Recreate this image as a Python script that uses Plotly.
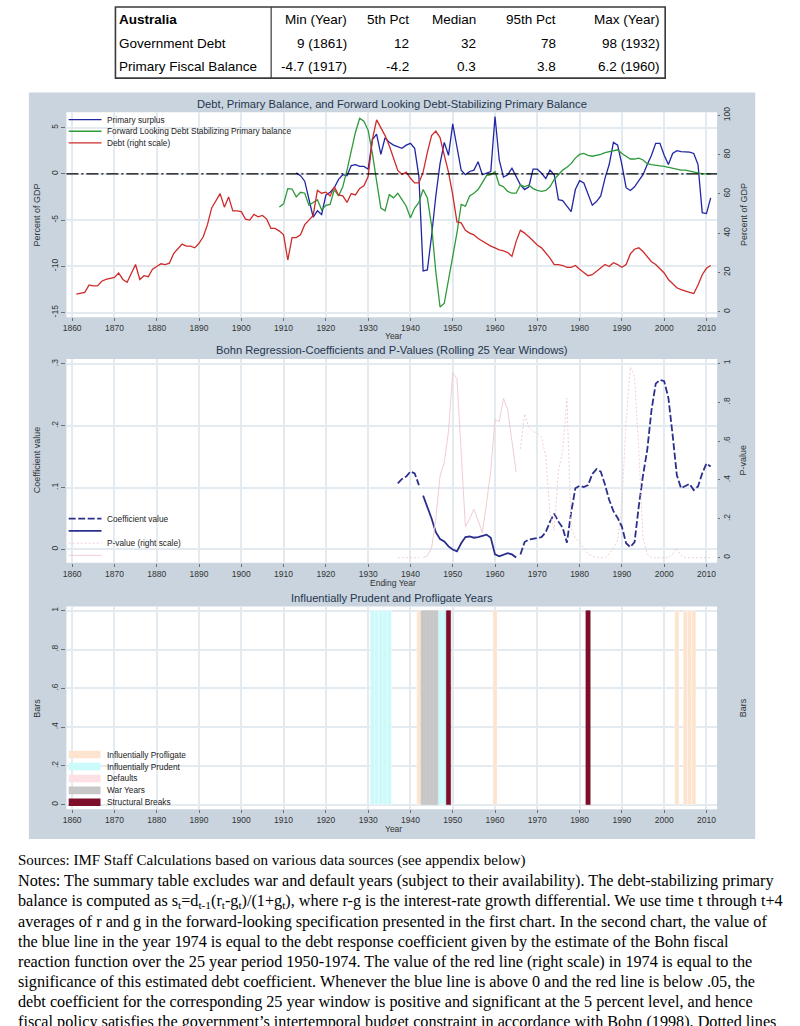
import plotly.graph_objects as go

W, H = 800, 1026

# ---------------- summary table ----------------
table_header = ["Australia", "Min (Year)", "5th Pct", "Median", "95th Pct", "Max (Year)"]
table_labels = ["Government Debt", "Primary Fiscal Balance"]
table_min = ["9 (1861)", "-4.7 (1917)"]
table_p5 = ["12", "-4.2"]
table_median = ["32", "0.3"]
table_p95 = ["78", "3.8"]
table_max = ["98 (1932)", "6.2 (1960)"]

# ---------------- panel 1: debt and balances ----------------
debt_years = list(range(1861, 2012))
debt = [
    9.0, 9.4, 9.9, 13.7, 13.2, 13.2, 15.6, 16.5, 17.0, 17.5,          # 1861-1870
    19.8, 16.5, 15.1, 19.4, 24.1, 16.5, 18.4, 17.9, 21.7, 23.1,       # 1871-1880
    24.5, 24.1, 24.8, 29.7, 32.1, 34.5, 33.5, 33.5, 32.6, 34.9,       # 1881-1890
    38.2, 44.4, 52.9, 56.2, 60.2, 53.3, 58.5, 51.4, 51.4, 51.0,       # 1891-1900
    47.2, 46.7, 49.6, 48.4, 49.1, 47.2, 42.5, 42.5, 41.1, 39.2,       # 1901-1910
    26.4, 37.8, 37.8, 39.2, 44.4, 46.7, 49.1, 61.8, 60.4, 60.9,       # 1911-1920
    59.0, 63.7, 59.5, 59.0, 55.7, 60.2, 59.5, 62.8, 64.2, 68.9,       # 1921-1930
    87.8, 97.7, 93.9, 89.7, 84.5, 77.9, 72.0, 69.9, 71.1, 68.0,       # 1931-1940
    65.6, 65.6, 71.1, 81.2, 89.7, 92.0, 88.7, 79.8, 71.1, 59.5,       # 1941-1950
    45.8, 45.3, 41.5, 40.1, 39.2, 37.3, 35.9, 34.9, 33.5, 32.6,       # 1951-1960
    31.6, 31.1, 30.2, 28.3, 35.9, 41.5, 40.1, 38.2, 35.9, 34.0,       # 1961-1970
    32.6, 30.2, 27.4, 24.1, 24.1, 23.6, 22.7, 22.7, 23.6, 21.7,       # 1971-1980
    19.8, 18.4, 18.9, 20.8, 22.2, 24.1, 23.1, 25.0, 24.1, 22.7,       # 1981-1990
    24.1, 29.5, 31.9, 32.6, 30.7, 28.3, 25.5, 24.1, 22.2, 19.8,       # 1991-2000
    16.5, 14.2, 12.3, 11.3, 10.4, 9.9, 9.4, 13.7, 18.9, 22.2,         # 2001-2010
    23.6,                                                             # 2011
]
surplus_years = list(range(1913, 2012))
primary_surplus = [
    0.1, -0.2, -0.8, -2.8, -4.7, -4.0, -4.4, -2.3,                     # 1913-1920
    -2.0, -1.5, -0.6, -0.1, -0.2, 0.9, 1.0, 0.8, 0.8, 0.5,            # 1921-1930
    3.7, 4.3, 2.1, 3.9, 3.4, 3.1, 2.9, 2.75, 3.1, 3.3,                # 1931-1940
    2.75, -0.3, -10.5, -10.4, -6.7, -2.4, 1.1, 3.4, 2.0, 5.4,         # 1941-1950
    2.9, 0.4, -0.1, 0.25, 0.4, 1.3, -0.1, 0.07, 0.25, 6.2,            # 1951-1960
    1.5, -0.35, -0.1, 0.6, -0.35, -1.2, -1.7, -1.4, 0.5, 0.5,         # 1961-1970
    0.07, -0.5, 0.4, -0.1, -2.8, -2.9, -3.5, -4.1, -1.7, -0.75,       # 1971-1980
    -1.0, -2.1, -3.4, -3.0, -2.4, -0.5, 1.0, 3.4, 3.1, 1.0,           # 1981-1990
    -1.5, -1.8, -1.4, -0.75, -0.1, 1.0, 2.0, 3.3, 3.3, 2.0,           # 1991-2000
    1.0, 2.2, 2.5, 2.4, 2.4, 2.35, 2.2, 1.0, -4.2, -4.3,              # 2001-2010
    -2.6,                                                             # 2011
]
fwd_years = list(range(1909, 2012))
fwd_stabilizing = [
    -3.6, -3.25,                                                      # 1909-1910
    -1.6, -1.65, -2.5, -2.0, -2.1, -3.4, -3.1, -2.8, -3.9, -3.4,      # 1911-1920
    -3.3, -1.7, -2.4, -1.4, 0.4, 2.4, 4.5, 6.0, 5.7, 4.7,             # 1921-1930
    2.2, -0.8, -3.7, -4.0, -2.25, -2.6, -2.1, -2.8, -3.5, -4.75,      # 1931-1940
    -3.7, -3.1, -1.7, -2.6, -5.6, -10.6, -14.4, -14.0, -11.4, -8.9,   # 1941-1950
    -6.4, -3.3, -3.5, -2.4, -2.1, -1.7, -1.0, -0.2, -0.1, 0.25,       # 1951-1960
    -1.2, -1.4, -1.9, -2.1, -2.1, -1.2, -1.4, -1.2, -1.6, -1.8,       # 1961-1970
    -1.9, -1.8, -1.4, -0.6, -0.1, 0.4, 0.7, 1.1, 1.7, 2.1,            # 1971-1980
    2.2, 2.0, 1.9, 2.0, 2.1, 2.3, 2.4, 2.5, 2.6, 2.2,                 # 1981-1990
    1.9, 1.6, 1.6, 1.7, 1.5, 1.1, 1.0, 0.9, 0.85, 0.8,                # 1991-2000
    0.7, 0.6, 0.55, 0.4, 0.4, 0.3, 0.2, 0.05, 0.0, 0.0,               # 2001-2010
    0.0,                                                              # 2011
]

# ---------------- panel 2: rolling Bohn regressions ----------------
bohn_years = list(range(1937, 2012))
coef_value = [
    0.107, 0.114, 0.118, 0.126,                                       # 1937-1940
    0.123, 0.104, 0.087, 0.070, 0.050, 0.028, 0.017, 0.013, 0.005, 0.000,   # 1941-1950
    -0.003, 0.010, 0.020, 0.021, 0.019, 0.020, 0.022, 0.024, 0.019, -0.008, # 1951-1960
    -0.011, -0.008, -0.006, -0.008, -0.013, -0.008, 0.012, 0.016, 0.017, 0.018,  # 1961-1970
    0.020, 0.028, 0.045, 0.058, 0.045, 0.035, 0.011, 0.060, 0.099, 0.103,  # 1971-1980
    0.101, 0.104, 0.122, 0.130, 0.126, 0.105, 0.080, 0.062, 0.051, 0.037,  # 1981-1990
    0.010, 0.004, 0.012, 0.070, 0.120, 0.161, 0.225, 0.268, 0.274, 0.272,  # 1991-2000
    0.245, 0.185, 0.120, 0.099, 0.102, 0.106, 0.096, 0.102, 0.123, 0.139,  # 2001-2010
    0.134,                                                            # 2011
]
p_value = [
    0.0, 0.0, 0.0, 0.0,                                               # 1937-1940
    0.0, 0.0, 0.0, 0.01, 0.05, 0.20, 0.42, 0.49, 0.65, 0.95,          # 1941-1950
    0.92, 0.55, 0.16, 0.20, 0.25, 0.19, 0.13, 0.28, 0.45, 0.71,       # 1951-1960
    0.70, 0.82, 0.76, 0.60, 0.44, 0.56, 0.74, 0.67, 0.65, 0.64,       # 1961-1970
    0.62, 0.52, 0.22, 0.14, 0.45, 0.55, 0.82, 0.15, 0.10, 0.08,       # 1971-1980
    0.05, 0.02, 0.01, 0.0, 0.0, 0.0, 0.02, 0.05, 0.09, 0.28,          # 1981-1990
    0.70, 0.98, 0.93, 0.55, 0.10, 0.02, 0.0, 0.0, 0.0, 0.0,           # 1991-2000
    0.0, 0.02, 0.05, 0.01, 0.0, 0.0, 0.0, 0.0, 0.0, 0.0,              # 2001-2010
    0.0,                                                              # 2011
]
solid_window = (1943, 1965)   # years drawn with the solid style

# ---------------- panel 3: classified years ----------------
profligate_years = [1942, 1960, 2003, 2005, 2006, 2007]
prudent_years = [1931, 1932, 1933, 1934, 1935, 1947, 1948]
default_years = []
war_years = [1943, 1944, 1945, 1946]
break_years = [1949, 1982]
bar_top = 1

# ---------------- ticks / text ----------------
decades = list(range(1860, 2011, 10))
p1_left_ticks = [-15, -10, -5, 0, 5]
p1_right_ticks = [0, 20, 40, 60, 80, 100]
p2_left_ticks = [0, 0.1, 0.2, 0.3]
p2_left_text = ["0", ".1", ".2", ".3"]
unit_ticks = [0, 0.2, 0.4, 0.6, 0.8, 1]
unit_text = ["0", ".2", ".4", ".6", ".8", "1"]

notes_lines = [
    "Sources: IMF Staff Calculations based on various data sources (see appendix below)",
    "Notes: The summary table excludes war and default years (subject to their availability). The debt-stabilizing primary",
    "balance is computed as s<sub>t</sub>=d<sub>t-1</sub>(r<sub>t</sub>-g<sub>t</sub>)/(1+g<sub>t</sub>), where r-g is the interest-rate growth differential. We use time t through t+4",
    "averages of r and g in the forward-looking specification presented in the first chart. In the second chart, the value of",
    "the blue line in the year 1974 is equal to the debt response coefficient given by the estimate of the Bohn fiscal",
    "reaction function over the 25 year period 1950-1974. The value of the red line (right scale) in 1974 is equal to the",
    "significance of this estimated debt coefficient. Whenever the blue line is above 0 and the red line is below .05, the",
    "debt coefficient for the corresponding 25 year window is positive and significant at the 5 percent level, and hence",
    "fiscal policy satisfies the government\u2019s intertemporal budget constraint in accordance with Bohn (1998). Dotted lines",
]

# ---------------- geometry helpers (pixels -> paper) ----------------
def px(v):
    return v / W


def py(v):
    return 1 - v / H


PL, PR = 62.7, 716.7
P1 = (107, 313)
P2 = (355, 560)
P3 = (604, 808)
XR = [1858.64, 2012.52]

SANS = "Liberation Sans, Arial, sans-serif"
SERIF = "Liberation Serif, Times New Roman, serif"
GRID = "#e3eaf0"
TICKC = "#707070"
tick_font = dict(size=8.5, color="#333333", family=SANS)
BG = "#c9d4de"
TITLE_C = "#25344f"

BLUE = "#2126a3"
GREEN = "#2e9a3a"
RED = "#cf2b2b"
NAVY = "#2b2f8c"
PINK = "#efc6d0"

PROFLIGATE = "#fde4cf"
PRUDENT = "#cbfafa"
DEFAULTS = "#fde0e4"
WAR = "#c7c7c7"
BREAK = "#7e0f2b"

COEF_DASH = "7px,2.5px"
P_DOT = "2px,2px"

fig = go.Figure()

# ---- panel 1 traces ----
fig.add_trace(go.Scatter(x=surplus_years, y=primary_surplus, mode="lines", name="Primary surplus",
                         line=dict(color=BLUE, width=1.3), xaxis="x", yaxis="y"))
fig.add_trace(go.Scatter(x=fwd_years, y=fwd_stabilizing, mode="lines",
                         name="Forward Looking Debt Stabilizing Primary balance",
                         line=dict(color=GREEN, width=1.3), xaxis="x", yaxis="y"))
fig.add_trace(go.Scatter(x=debt_years, y=debt, mode="lines", name="Debt (right scale)",
                         line=dict(color=RED, width=1.3), xaxis="x", yaxis="y2"))

# ---- panel 2 traces ----
is_solid = [solid_window[0] <= yr <= solid_window[1] for yr in bohn_years]
coef_dashed = [v if not s else None for v, s in zip(coef_value, is_solid)]
coef_solid = [v if s else None for v, s in zip(coef_value, is_solid)]
p_dotted = [v if not s else None for v, s in zip(p_value, is_solid)]
p_solid = [v if s else None for v, s in zip(p_value, is_solid)]

fig.add_trace(go.Scatter(x=bohn_years, y=p_dotted, mode="lines", name="P-value (right scale)",
                         line=dict(color=PINK, width=0.9, dash=P_DOT), xaxis="x2", yaxis="y4",
                         connectgaps=False))
fig.add_trace(go.Scatter(x=bohn_years, y=p_solid, mode="lines", name="P-value",
                         line=dict(color=PINK, width=0.9), xaxis="x2", yaxis="y4",
                         connectgaps=False))
fig.add_trace(go.Scatter(x=bohn_years, y=coef_dashed, mode="lines", name="Coefficient value",
                         line=dict(color=NAVY, width=1.8, dash=COEF_DASH), xaxis="x2", yaxis="y3",
                         connectgaps=False))
fig.add_trace(go.Scatter(x=bohn_years, y=coef_solid, mode="lines", name="Coefficient value ",
                         line=dict(color=NAVY, width=1.8), xaxis="x2", yaxis="y3",
                         connectgaps=False))

# ---- panel 3 traces ----
bar_groups = [
    ("Influentially Profligate", profligate_years, PROFLIGATE, "rgba(255,255,255,0.55)"),
    ("Influentially Prudent", prudent_years, PRUDENT, "rgba(255,255,255,0.55)"),
    ("Defaults", default_years, DEFAULTS, "rgba(255,255,255,0.55)"),
    ("War Years", war_years, WAR, WAR),
    ("Structural Breaks", break_years, BREAK, BREAK),
]
for name, yrs, col, edge in bar_groups:
    fig.add_trace(go.Bar(x=yrs, y=[bar_top] * len(yrs), width=1, name=name,
                         marker=dict(color=col, line=dict(color=edge, width=0.6)),
                         xaxis="x3", yaxis="y5"))
fig.update_traces(showlegend=False)


def xax(anchor):
    return dict(domain=[px(PL), px(PR)], anchor=anchor, range=XR, tickmode="array",
                tickvals=decades, ticktext=[str(d) for d in decades], showgrid=True,
                gridcolor=GRID, gridwidth=1.5, zeroline=False, showline=False, ticks="outside",
                ticklen=3, tickcolor=TICKC, tickfont=tick_font, fixedrange=True)


def yleft(panel, rng, vals, texts, anchor):
    return dict(domain=[py(panel[1]), py(panel[0])], anchor=anchor, range=rng, tickmode="array",
                tickvals=vals, ticktext=texts, tickangle=-90, showgrid=True, gridcolor=GRID,
                gridwidth=1.5, zeroline=False, showline=False, ticks="outside", ticklen=4,
                tickcolor=TICKC, tickfont=tick_font, fixedrange=True)


def yright(overlay, rng, vals, texts, anchor):
    return dict(overlaying=overlay, side="right", anchor=anchor, range=rng, tickmode="array",
                tickvals=vals, ticktext=texts, tickangle=-90, showgrid=False, zeroline=False,
                showline=False, ticks="outside", ticklen=2, tickcolor=TICKC, tickfont=tick_font,
                fixedrange=True)


def ann(text, x, y, size, color="#222222", family=SANS, xanchor="left", angle=0):
    return dict(text=text, x=px(x), y=py(y), xref="paper", yref="paper", showarrow=False,
                xanchor=xanchor, yanchor="middle", textangle=angle, align="left",
                font=dict(size=size, color=color, family=family))


shapes = [
    dict(type="rect", xref="paper", yref="paper", x0=px(25), x1=px(755), y0=py(838), y1=py(87),
         fillcolor=BG, line=dict(width=0), layer="below"),
]
for panel in (P1, P2, P3):
    shapes.append(dict(type="rect", xref="paper", yref="paper", x0=px(PL), x1=px(PR),
                       y0=py(panel[1]), y1=py(panel[0]), fillcolor="white",
                       line=dict(width=0), layer="below"))
# zero reference line of panel 1
shapes.append(dict(type="line", xref="paper", yref="y", x0=px(PL), x1=px(PR), y0=0, y1=0,
                   line=dict(color="black", width=1.2, dash="12px,3px,2px,3px"), layer="above"))
# table frame
shapes += [
    dict(type="rect", xref="paper", yref="paper", x0=px(112), x1=px(664.5), y0=py(72.5), y1=py(1),
         line=dict(color="#3a3a3a", width=1.6), fillcolor="rgba(0,0,0,0)", layer="above"),
    dict(type="line", xref="paper", yref="paper", x0=px(268.5), x1=px(268.5), y0=py(72.5), y1=py(1),
         line=dict(color="#3a3a3a", width=1.2), layer="above"),
]

annotations = []

# ---- table text ----
col_right = [347, 409, 476, 557, 661]
row_y = [13.3, 37.3, 61.0]
TFS = 13.5
annotations.append(ann("<b>%s</b>" % table_header[0], 114, row_y[0], TFS, "black"))
for j, h in enumerate(table_header[1:]):
    annotations.append(ann(h, col_right[j], row_y[0], TFS, "black", xanchor="right"))
for i, lab in enumerate(table_labels):
    annotations.append(ann(lab, 114, row_y[i + 1], TFS, "black"))
    for j, col in enumerate([table_min, table_p5, table_median, table_p95, table_max]):
        annotations.append(ann(col[i], col_right[j], row_y[i + 1], TFS, "black", xanchor="right"))

# ---- panel and axis titles ----
mid = (PL + PR) / 2
for text, ypix in [
    ("Debt, Primary Balance, and Forward Looking Debt-Stabilizing Primary Balance", 99),
    ("Bohn Regression-Coefficients and P-Values (Rolling 25 Year Windows)", 346.5),
    ("Influentially Prudent and Profligate Years", 595),
]:
    annotations.append(ann(text, mid, ypix, 11.2, TITLE_C, xanchor="center"))
for text, ypix in [("Year", 331.5), ("Ending Year", 580.5), ("Year", 828)]:
    annotations.append(ann(text, 391, ypix, 8.5, "#333333", xanchor="center"))
for text, xpix, ypix in [
    ("Percent of GDP", 33, 210), ("Percent of GDP", 743, 210),
    ("Coefficient value", 33, 457), ("P-value", 743, 457),
    ("Bars", 33, 706), ("Bars", 743, 706),
]:
    annotations.append(ann(text, xpix, ypix, 9, "#333333", xanchor="center", angle=-90))

# ---- legends (keys drawn next to the labels) ----
KEY_X0, KEY_X1, TEXT_X = 65, 98, 101.5
legend1 = [("Primary surplus", BLUE, "solid", 1.3),
           ("Forward Looking Debt Stabilizing Primary balance", GREEN, "solid", 1.3),
           ("Debt (right scale)", RED, "solid", 1.3)]
for i, (lab, col, dash, wd) in enumerate(legend1):
    yy = 114.3 + 11.7 * i
    shapes.append(dict(type="line", xref="paper", yref="paper", x0=px(KEY_X0), x1=px(KEY_X1),
                       y0=py(yy), y1=py(yy), line=dict(color=col, width=wd, dash=dash)))
    annotations.append(ann(lab, TEXT_X, yy, 8.3))
legend2 = [("Coefficient value", NAVY, COEF_DASH, 1.8), ("", NAVY, "solid", 1.8),
           ("P-value (right scale)", PINK, P_DOT, 0.9), ("", PINK, "solid", 0.9)]
for i, (lab, col, dash, wd) in enumerate(legend2):
    yy = 515.7 + 12.3 * i
    shapes.append(dict(type="line", xref="paper", yref="paper", x0=px(KEY_X0), x1=px(KEY_X1),
                       y0=py(yy), y1=py(yy), line=dict(color=col, width=wd, dash=dash)))
    if lab:
        annotations.append(ann(lab, TEXT_X, yy, 8.3))
for i, (lab, yrs, col, edge) in enumerate(bar_groups):
    yy = 753 + 12 * i
    shapes.append(dict(type="rect", xref="paper", yref="paper", x0=px(KEY_X0), x1=px(97),
                       y0=py(yy + 3.8), y1=py(yy - 3.8), fillcolor=col, line=dict(width=0)))
    annotations.append(ann(lab, TEXT_X, yy, 8.3))

# ---- footer notes ----
for i, line in enumerate(notes_lines):
    size = 15 if i == 0 else 16.2
    annotations.append(ann(line, 12, 860 + 20.3 * i, size, "black", family=SERIF))

fig.update_layout(
    width=W, height=H, autosize=False,
    margin=dict(l=0, r=0, t=0, b=0),
    paper_bgcolor="white", plot_bgcolor="white",
    font=dict(family=SANS, color="#333333"),
    barmode="overlay", showlegend=False,
    xaxis=xax("y"), xaxis2=xax("y3"), xaxis3=xax("y5"),
    yaxis=yleft(P1, [-15.505, 6.645], p1_left_ticks, [str(v) for v in p1_left_ticks], "x"),
    yaxis2=yright("y", [-2.68, 101.52], p1_right_ticks, [str(v) for v in p1_right_ticks], "x"),
    yaxis3=yleft(P2, [-0.0214, 0.308], p2_left_ticks, p2_left_text, "x2"),
    yaxis4=yright("y3", [-0.0256, 1.022], unit_ticks, unit_text, "x2"),
    yaxis5=yleft(P3, [-0.024, 1.022], unit_ticks, unit_text, "x3"),
    yaxis6=yright("y5", [-0.024, 1.022], unit_ticks, unit_text, "x3"),
    shapes=shapes,
    annotations=annotations,
)

pin_page = (
    "document.documentElement.style.margin='0';"
    "document.body.style.margin='0';document.body.style.padding='0';"
    "var gd=document.getElementById('{plot_id}');"
    "gd.style.position='absolute';gd.style.left='0px';gd.style.top='0px';"
)
fig.write_html("out.html", config={"displayModeBar": False}, post_script=pin_page)
